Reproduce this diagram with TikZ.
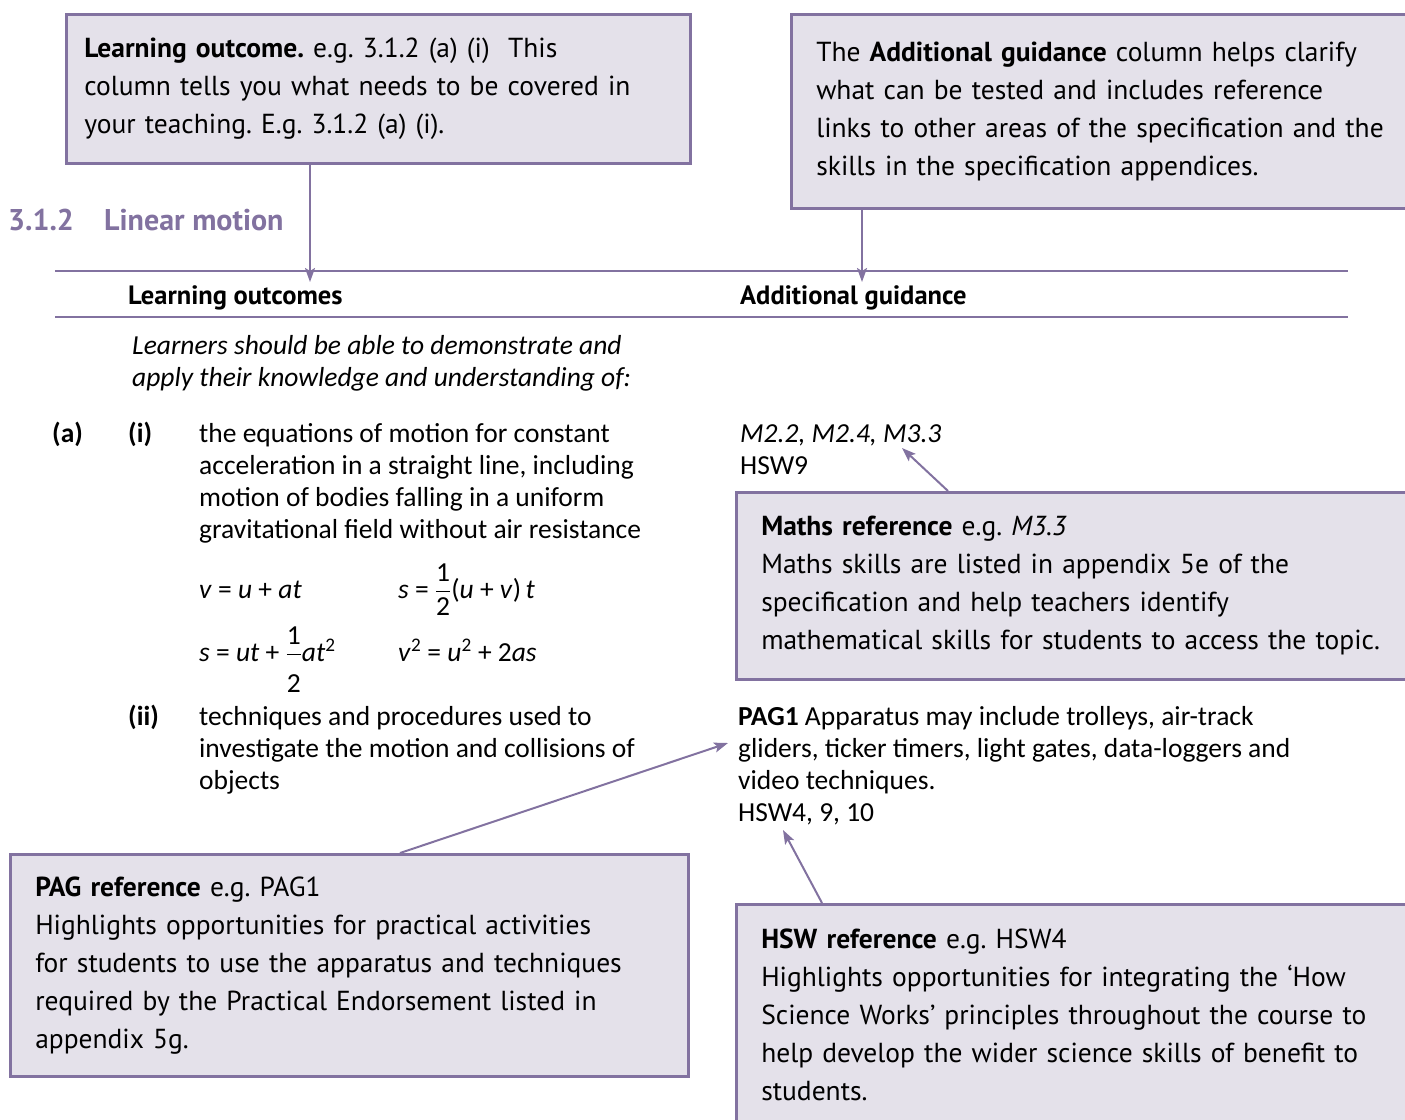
\documentclass[tikz,border=0pt]{standalone}
\usepackage{fontspec}
\usepackage{amsmath}
\setmainfont{Carlito}
\newfontfamily\notefont{PT Sans}
\usetikzlibrary{arrows.meta,positioning}
\definecolor{specPurple}{HTML}{8272A0}
\definecolor{specFill}{HTML}{E4E1EA}
\frenchspacing

\begin{document}
\begin{tikzpicture}[x=1pt,y=-1pt,
    notebox/.style={draw=specPurple,fill=specFill,line width=2.5pt,anchor=north west,
                    align=left,inner xsep=25pt,inner ysep=0pt,
                    font=\notefont\fontsize{27.5}{38}\selectfont},
    body/.style={anchor=base west,align=left,inner sep=0pt,
                 font=\fontsize{27.5}{32}\selectfont},
    colhead/.style={anchor=base west,inner sep=0pt,
                    font=\notefont\bfseries\fontsize{26.5}{30}\selectfont},
    sechead/.style={anchor=base west,inner sep=0pt,text=specPurple,
                    font=\notefont\bfseries\fontsize{30}{34}\selectfont},
    rule/.style={draw=specPurple,line width=2pt},
    ptr/.style={draw=specPurple,line width=2pt,
                -{Stealth[length=14pt,width=10pt,inset=3pt]}}]
  \clip (0,0) rectangle (1405,1119);

  % call-out boxes
  \node[notebox,inner xsep=18pt,minimum width=624pt,minimum height=149pt,
        text width=588pt] (lo) at (65,13)
       {\textbf{Learning outcome.} e.g. 3.1.2 (a) (i)\ \ This\\
        column tells you what needs to be covered in\\
        your teaching. E.g. 3.1.2 (a) (i).};
  \node[notebox,minimum height=194pt,text width=700pt] (ag) at (790,13)
       {The \textbf{Additional guidance} column helps clarify\\
        what can be tested and includes reference\\
        links to other areas of the specification and the\\
        skills in the specification appendices.};
  \node[notebox,minimum height=187pt,text width=700pt] (mr) at (735,491)
       {\textbf{Maths reference} e.g. \textit{M3.3}\\
        Maths skills are listed in appendix 5e of the\\
        specification and help teachers identify\\
        mathematical skills for students to access the topic.};
  \node[notebox,minimum width=678pt,minimum height=222pt,text width=628pt] (pg) at (9,853)
       {\textbf{PAG reference} e.g. PAG1\\
        Highlights opportunities for practical activities\\
        for students to use the apparatus and techniques\\
        required by the Practical Endorsement listed in\\
        appendix 5g.};
  \node[notebox,minimum height=222pt,text width=700pt] (hw) at (735,903)
       {\textbf{HSW reference} e.g. HSW4\\
        Highlights opportunities for integrating the ‘How\\
        Science Works’ principles throughout the course to\\
        help develop the wider science skills of benefit to\\
        students.};

  % section heading and table rules
  \node[sechead] (secnum) at (8,230) {3.1.2};
  \node[sechead] (sectitle) at (104,230) {Linear motion};
  \draw[rule] (55,271) -- (1348,271);
  \draw[rule] (55,317) -- (1348,317);
  \node[colhead] (lohead) at (128,304) {Learning outcomes};
  \node[colhead] (aghead) at (740,304) {Additional guidance};

  % learning outcomes column (base = last line)
  \node[body] (intro) at (132,386)
       {\itshape Learners should be able to demonstrate and\\
        \itshape apply their knowledge and understanding of:};
  \node[body] (itemA) at (52,442) {\textbf{(a)}};
  \node[body] (itemAi) at (128,442) {\textbf{(i)}};
  \node[body] (textAi) at (199,538)
       {the equations of motion for constant\\
        acceleration in a straight line, including\\
        motion of bodies falling in a uniform\\
        gravitational field without air resistance};
  \node[body] (eqA) at (199,598) {\textit{v} = \textit{u} + \textit{at}};
  \node[body] (eqB) at (398,598)
       {\textit{s} = $\dfrac{\text{1}}{\text{2}}$(\textit{u} + \textit{v})\,\textit{t}};
  \node[body] (eqC) at (199,661)
       {\textit{s} = \textit{ut} + $\dfrac{\text{1}}{\lower14pt\hbox{2}}$\textit{at}\textsuperscript{2}};
  \node[body] (eqD) at (398,661)
       {\textit{v}\textsuperscript{2} = \textit{u}\textsuperscript{2} + 2\textit{as}};
  \node[body] (itemAii) at (128,725) {\textbf{(ii)}};
  \node[body] (textAii) at (199,789)
       {techniques and procedures used to\\
        investigate the motion and collisions of\\
        objects};

  % additional guidance column
  \node[body] (mlist) at (740,474) {\textit{M2.2, M2.4, M3.3}\\ HSW9};
  \node[body] (paglist) at (738,821)
       {\textbf{PAG1} Apparatus may include trolleys, air-track\\
        gliders, ticker timers, light gates, data-loggers and\\
        video techniques.\\
        HSW4, 9, 10};

  % pointers
  \coordinate (loTip) at (310,282);
  \coordinate (agTip) at (862,282);
  \coordinate (mrTip) at (902,448);
  \coordinate (pgTip) at (728,743);
  \coordinate (hwTip) at (783,830);
  \draw[ptr] (lo.south -| loTip) -- (loTip);
  \draw[ptr] (ag.south -| agTip) -- (agTip);
  \draw[ptr] ([xshift=213pt]mr.north west) -- (mrTip);
  \draw[ptr] ([xshift=391pt]pg.north west) -- (pgTip);
  \draw[ptr] ([xshift=87pt]hw.north west) -- (hwTip);
\end{tikzpicture}
\end{document}
